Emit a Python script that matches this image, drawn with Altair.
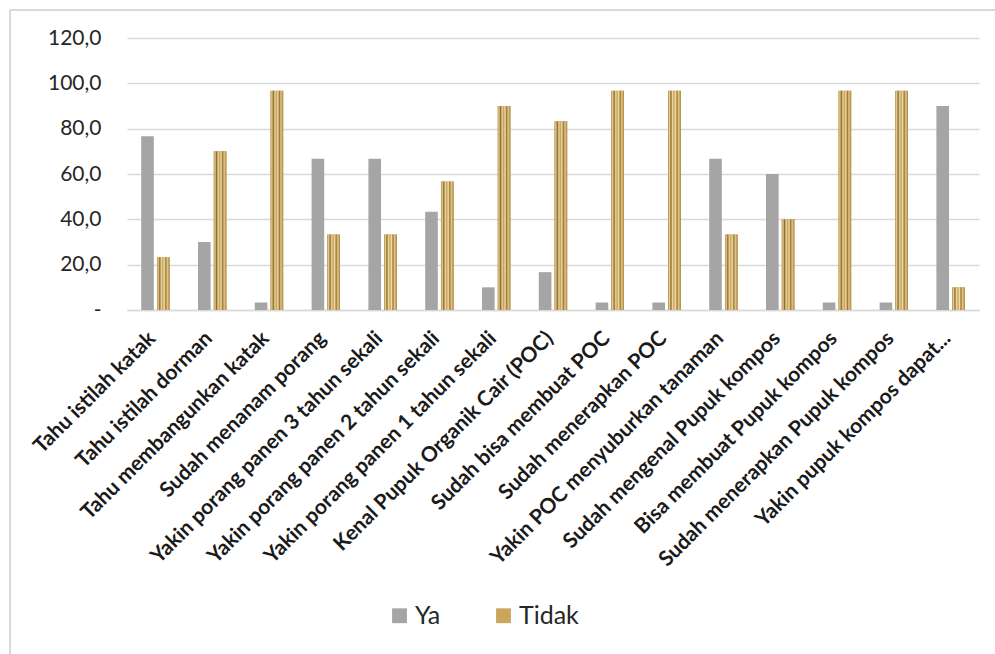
import altair as alt
import pandas as pd

categories = [
    "Tahu istilah katak",
    "Tahu istilah dorman",
    "Tahu membangunkan katak",
    "Sudah menanam porang",
    "Yakin porang panen 3 tahun sekali",
    "Yakin porang panen 2 tahun sekali",
    "Yakin porang panen 1 tahun sekali",
    "Kenal Pupuk Organik Cair (POC)",
    "Sudah bisa membuat POC",
    "Sudah menerapkan POC",
    "Yakin POC menyuburkan tanaman",
    "Sudah mengenal Pupuk kompos",
    "Bisa membuat Pupuk kompos",
    "Sudah menerapkan Pupuk kompos",
    "Yakin pupuk kompos dapat...",
]
ya = [76.7, 30.0, 3.3, 66.7, 66.7, 43.3, 10.0, 16.7, 3.3, 3.3, 66.7, 60.0, 3.3, 3.3, 90.0]
tidak = [23.3, 70.0, 96.7, 33.3, 33.3, 56.7, 90.0, 83.3, 96.7, 96.7, 33.3, 40.0, 96.7, 96.7, 10.0]
series = ["Ya", "Tidak"]
y_ticks = [0, 20, 40, 60, 80, 100, 120]

rows = []
for c, a, b in zip(categories, ya, tidak):
    rows.append({"cat": c, "series": "Ya", "value": a})
    rows.append({"cat": c, "series": "Tidak", "value": b})
df = pd.DataFrame(rows)

FONT = "Lato"

x_enc = alt.X(
    "cat:N",
    sort=categories,
    scale=alt.Scale(paddingInner=0.5, paddingOuter=0.25),
    axis=alt.Axis(
        title=None,
        labelAngle=-45,
        labelAlign="right",
        labelBaseline="middle",
        labelFont=FONT,
        labelFontWeight="bold",
        labelFontSize=21,
        labelColor="#1a1a1a",
        labelPadding=25,
        labelOffset=-3,
        ticks=False,
        grid=False,
        domain=True,
        domainColor="#D9D9D9",
        domainWidth=1.5,
        labelLimit=500,
    ),
)
y_enc = alt.Y(
    "value:Q",
    scale=alt.Scale(domain=[0, 120], nice=False),
    axis=alt.Axis(
        title=None,
        values=y_ticks,
        labelExpr="datum.value == 0 ? '-' : replace(format(datum.value, '.1f'), '.', ',')",
        labelFont=FONT,
        labelFontSize=21,
        labelColor="#262626",
        labelPadding=26,
        ticks=False,
        domain=False,
        grid=True,
        gridColor="#D9D9D9",
        gridWidth=1.5,
    ),
)
xoff = alt.XOffset(
    "series:N",
    sort=series,
    scale=alt.Scale(domain=series, paddingInner=0.2),
)

bars = alt.Chart(df).mark_bar().encode(
    x=x_enc,
    y=y_enc,
    xOffset=xoff,
    color=alt.Color(
        "series:N",
        sort=series,
        scale=alt.Scale(domain=series, range=["#A5A5A5", "#C9A55E"]),
        legend=alt.Legend(
            title=None,
            orient="none",
            legendX=260,
            legendY=565,
            direction="horizontal",
            symbolType="square",
            symbolSize=220,
            symbolStrokeWidth=0,
            labelFont=FONT,
            labelFontSize=25,
            labelColor="#262626",
            columnPadding=50,
            labelOffset=3,
        ),
    ),
)

gradient = {
    "gradient": "linear",
    "x1": 0, "y1": 0, "x2": 1, "y2": 0,
    "stops": [
        {"offset": 0.0, "color": "#B08A45"},
        {"offset": 0.1, "color": "#E6CF92"},
        {"offset": 0.22, "color": "#8E6B2E"},
        {"offset": 0.34, "color": "#E9D59E"},
        {"offset": 0.46, "color": "#C7A25C"},
        {"offset": 0.58, "color": "#F0DCA6"},
        {"offset": 0.7, "color": "#9C7838"},
        {"offset": 0.82, "color": "#E2C888"},
        {"offset": 1.0, "color": "#A98340"},
    ],
}

texture = alt.Chart(df).transform_filter(alt.datum.series == "Tidak").mark_bar(
    color=gradient
).encode(x=x_enc, y=y_enc, xOffset=xoff)

frame_left = alt.Chart(df).mark_rule(color="#D9D9D9", strokeWidth=1.5).encode(
    x=alt.value(-117), y=alt.value(-28), y2=alt.value(616)
)
frame_top = alt.Chart(df).mark_rule(color="#D9D9D9", strokeWidth=1.5).encode(
    x=alt.value(-117), x2=alt.value(868), y=alt.value(-28)
)

chart = alt.layer(bars, texture, frame_left, frame_top).properties(
    width=852,
    height=272,
    background="white",
    view=alt.ViewBackground(strokeWidth=0, strokeOpacity=0),
    autosize=alt.AutoSizeParams(type="none"),
    padding={"left": 127, "top": 38, "right": 16, "bottom": 344},
).configure(
    view={"stroke": None, "strokeWidth": 0},
    style={"cell": {"stroke": "transparent", "strokeWidth": 0}},
)

chart.save("out.html", embed_options={"renderer": "svg", "actions": False})
